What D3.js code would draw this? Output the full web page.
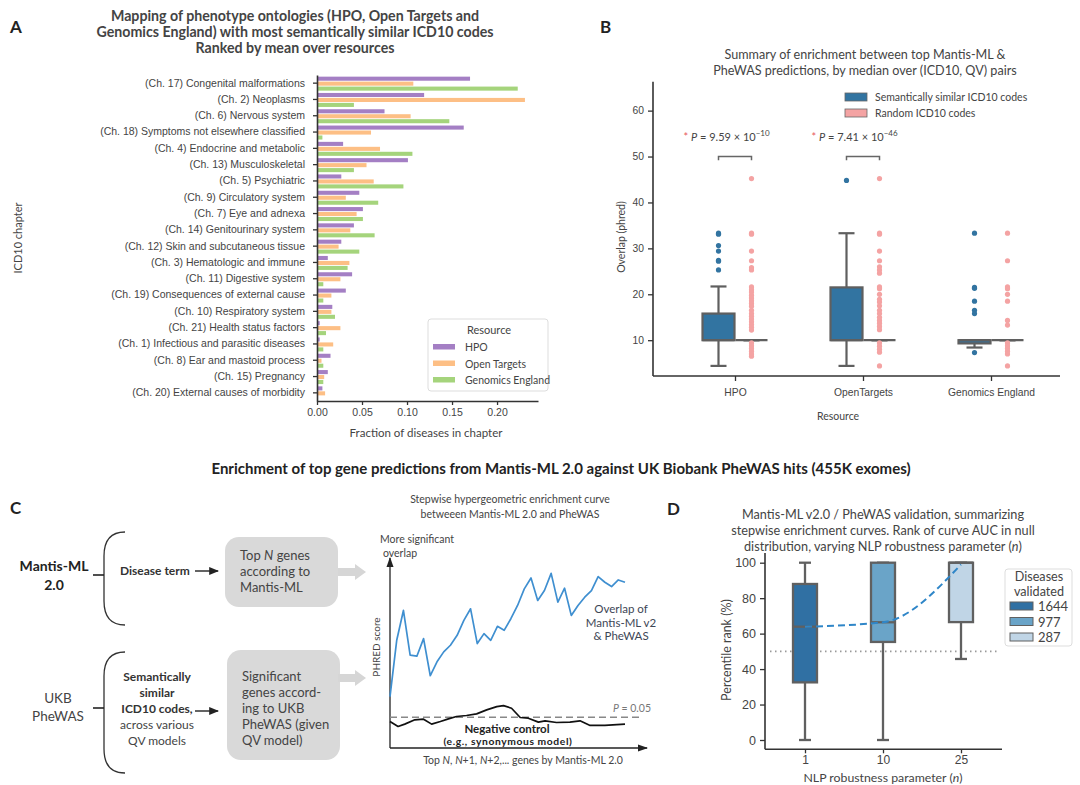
<!DOCTYPE html>
<html><head><meta charset="utf-8">
<script src="https://cdn.jsdelivr.net/npm/d3@7"></script>
<style>
body{margin:0;background:#fff;}
svg{font-family:Lato,'Open Sans',sans-serif;}
</style></head><body>
<svg id="c" width="1080" height="785"></svg>
<script>
// ---------- Panel A data ----------
const chapters = ["(Ch. 17) Congenital malformations","(Ch. 2) Neoplasms","(Ch. 6) Nervous system","(Ch. 18) Symptoms not elsewhere classified","(Ch. 4) Endocrine and metabolic","(Ch. 13) Musculoskeletal","(Ch. 5) Psychiatric","(Ch. 9) Circulatory system","(Ch. 7) Eye and adnexa","(Ch. 14) Genitourinary system","(Ch. 12) Skin and subcutaneous tissue","(Ch. 3) Hematologic and immune","(Ch. 11) Digestive system","(Ch. 19) Consequences of external cause","(Ch. 10) Respiratory system","(Ch. 21) Health status factors","(Ch. 1) Infectious and parasitic diseases","(Ch. 8) Ear and mastoid process","(Ch. 15) Pregnancy","(Ch. 20) External causes of morbidity"];
const hpoFrac = [0.170,0.119,0.075,0.163,0.029,0.101,0.027,0.047,0.051,0.041,0.027,0.012,0.039,0.032,0.017,0.003,0.003,0.015,0.012,0.006];
const otFrac  = [0.107,0.231,0.104,0.060,0.070,0.055,0.063,0.032,0.044,0.037,0.024,0.036,0.026,0.016,0.016,0.026,0.018,0.005,0.008,0.009];
const geFrac  = [0.223,0.041,0.147,0.006,0.106,0.041,0.096,0.068,0.051,0.064,0.047,0.034,0.007,0.007,0.020,0.010,0.007,0.007,0.007,0.000];
const resources = ["HPO","Open Targets","Genomics England"];
const resColors = ["#a47fc4","#fdbf85","#a5d47c"];
const fracTicks = [0,0.05,0.10,0.15,0.20];

// ---------- Panel B data ----------
const bCats = ["HPO","OpenTargets","Genomics England"];
const bHues = ["Semantically similar ICD10 codes","Random ICD10 codes"];
const bHueColors = ["#3274a1","#f4a3a3"];
// box stats: [q1, median, q3, whiskerLow, whiskerHigh]
const bSimStats  = [[10,10,15.8,4.4,21.7],[10,10,21.5,4.4,33.3],[9.3,10,10,8.4,10]];
const bRandStats = [[10,10,10,10,10],[10,10,10,10,10],[10,10,10,10,10]];
const bSimFliers = [[33.3,33.1,30.6,29.4,27.4,27.2,25.3],[44.8],[33.3,21.5,21.3,18.5,16.5,15.8,7.3]];
const bRandFliers = [
  [45.2,33.3,33.1,29.4,27.3,25.8,25.3,21.6,21.0,20.5,19.8,19.2,18.6,18.0,17.4,16.5,15.8,15.2,14.6,14.0,13.4,12.8,12.2,9.4,8.8,8.2,7.6,7.0,6.5],
  [45.2,33.3,33.1,29.4,27.3,26.0,25.3,24.6,21.6,21.2,20.0,18.9,18.3,17.5,16.5,15.8,15.0,14.3,13.7,13.0,12.3,9.4,8.7,8.0,7.4,4.4],
  [33.3,27.3,21.6,21.2,20.0,18.5,14.3,13.3,9.4,8.8,8.2,7.6,7.0,4.4]];
const bTicks = [10,20,30,40,50,60];
const bPMantissa = ["9.59","7.41"];
const bPExponent = ["\u221210","\u221246"];

// ---------- Panel C (schematic curves) ----------
const overlapStep = d3.range(36);
const overlapScore = [31,65,83,56,55.4,66,43.6,52,58,62,68,77,84,63,69,65,73.4,71,78,86,96,102.6,89,95,105.4,88,96.4,80,86,91,95,103.4,100,97.4,101.4,100];
const negStep = [0,1.2,2.2,3.7,5,6.2,7.5,8.7,9.9,11.4,12.9,14.4,15.9,16.9,18.1,19.4,20.6,22.1,23.1,24.8,26.8,28.3,29.8,32,35];
const negScore = [16,13,14.4,17,17.4,14.4,16,17.6,19,19.6,20.6,23,25,25.6,24,18.4,18,15.6,16.4,15.4,15.6,16.4,13.6,13.6,14.4];
const pThresholdScore = 18.6;

// ---------- Panel D data ----------
const nlpParams = ["1","10","25"];
const diseasesValidated = ["1644","977","287"];
const dColors = ["#3070a3","#6aa4c8","#c0d5e6"];
// [q1, median, q3, whiskerLow, whiskerHigh]
const dStats = [[32.5,63.9,88,0,100],[55.3,66.4,100,0,100],[66.5,100,100,45.7,100]];
const dMedianTrend = [63.9,66.4,99];
const dTicks = [0,20,40,60,80,100];
const dNullLine = 50;

// ================= drawing =================
const svg = d3.select("#c");
const TXT = "#444";
const AX = "#333";

function txt(g, x, y, s, o={}) {
  const t = g.append("text").attr("x", x).attr("y", y).text(s)
    .attr("fill", o.fill || TXT).attr("font-size", o.size || 11)
    .attr("text-anchor", o.anchor || "start");
  if (o.bold) t.attr("font-weight", "bold");
  if (o.italic) t.attr("font-style", "italic");
  return t;
}

// ---------- Panel A ----------
{
  const g = svg.append("g");
  txt(g, 10, 33, "A", {size: 17, bold: true, fill: "#222"});
  ["Mapping of phenotype ontologies (HPO, Open Targets and",
   "Genomics England) with most semantically similar ICD10 codes",
   "Ranked by mean over resources"].forEach((s,i) =>
    txt(g, 295, 21 + i*16, s, {size: 14.2, bold: true, anchor: "middle"}));

  const x = d3.scaleLinear().domain([0, 0.2455]).range([317, 538]);
  const y = d3.scaleBand().domain(chapters).range([75, 401]);
  const sub = d3.scaleBand().domain(resources).range([-6.5, 7.5]).paddingInner(0.18);
  const series = [hpoFrac, otFrac, geFrac];
  resources.forEach((r, k) => {
    g.append("g").selectAll("rect").data(chapters).join("rect")
      .attr("x", x(0)).attr("width", (d,i) => x(series[k][i]) - x(0))
      .attr("y", d => y(d) + y.bandwidth()/2 + sub(r))
      .attr("height", sub.bandwidth())
      .attr("fill", resColors[k]);
  });
  const ya = g.append("g").attr("transform", `translate(${x(0)},0)`)
    .call(d3.axisLeft(y).tickSize(4).tickPadding(8).tickSizeOuter(0));
  const xa = g.append("g").attr("transform", `translate(0,401)`)
    .call(d3.axisBottom(x).tickValues(fracTicks).tickFormat(d3.format(".2f")).tickSize(4).tickPadding(4).tickSizeOuter(0));
  [ya, xa].forEach(a => {
    a.selectAll("path").attr("stroke", AX).attr("stroke-width", 1.6);
    a.selectAll("line").attr("stroke", AX).attr("stroke-width", 1.3);
    a.selectAll("text").attr("fill", TXT).attr("font-size", 10.5).attr("font-family", null);
  });
  txt(g, 426, 437, "Fraction of diseases in chapter", {size: 11.5, anchor: "middle"});
  txt(g, 0, 0, "ICD10 chapter", {size: 11, anchor: "middle"})
    .attr("transform", "translate(22,238) rotate(-90)");

  // legend
  const lg = g.append("g");
  lg.append("rect").attr("x", 428).attr("y", 319).attr("width", 120).attr("height", 72)
    .attr("rx", 3).attr("fill", "#fff").attr("stroke", "#ddd");
  txt(lg, 489, 334, "Resource", {size: 11, anchor: "middle"});
  resources.forEach((r, k) => {
    lg.append("rect").attr("x", 433).attr("y", 344 + k*16.5).attr("width", 22).attr("height", 5.5).attr("fill", resColors[k]);
    txt(lg, 465, 351 + k*16.5, r, {size: 10.5});
  });
}

// ---------- Panel B ----------
{
  const g = svg.append("g");
  txt(g, 600, 33, "B", {size: 17, bold: true, fill: "#222"});
  txt(g, 865, 59, "Summary of enrichment between top Mantis-ML &", {size: 12.6, anchor: "middle"});
  txt(g, 865, 75, "PheWAS predictions, by median over (ICD10, QV) pairs", {size: 12.6, anchor: "middle"});

  const y = d3.scaleLinear().domain([2.2, 66.3]).range([376, 81.7]);
  const x = d3.scalePoint().domain(bCats).range([735, 991]);
  const hueOff = d3.scalePoint().domain(bHues).range([-16.5, 16.5]);
  const bw = 32;
  const edge = "#5f5f5f";

  const ya = g.append("g").attr("transform", "translate(653,0)")
    .call(d3.axisLeft(y).tickValues(bTicks).tickSize(5).tickPadding(4).tickSizeOuter(0));
  const xa = g.append("g").attr("transform", "translate(0,376)")
    .call(d3.axisBottom(x).tickSize(5).tickPadding(8).tickSizeOuter(0));
  xa.select("path").remove();
  ya.select("path").remove();
  g.append("line").attr("x1", 653).attr("x2", 653).attr("y1", y.range()[1]).attr("y2", 376).attr("stroke", AX).attr("stroke-width", 1.6);
  g.append("line").attr("x1", 653).attr("x2", 1060).attr("y1", 376).attr("y2", 376).attr("stroke", AX).attr("stroke-width", 1.6);
  [ya, xa].forEach(a => {
    a.selectAll("line").attr("stroke", AX).attr("stroke-width", 1.3);
    a.selectAll("text").attr("fill", TXT).attr("font-size", 10.3).attr("font-family", null);
  });
  txt(g, 0, 0, "Overlap (phred)", {size: 10.5, anchor: "middle"}).attr("transform", "translate(625,237) rotate(-90)");
  txt(g, 838, 420, "Resource", {size: 10.5, anchor: "middle"});

  const drawBox = (cx, s, color) => {
    const [q1, med, q3, lo, hi] = s;
    g.append("line").attr("x1", cx).attr("x2", cx).attr("y1", y(lo)).attr("y2", y(q1)).attr("stroke", edge).attr("stroke-width", 2.2);
    g.append("line").attr("x1", cx).attr("x2", cx).attr("y1", y(q3)).attr("y2", y(hi)).attr("stroke", edge).attr("stroke-width", 2.2);
    [lo, hi].forEach(v => g.append("line").attr("x1", cx - bw/4).attr("x2", cx + bw/4).attr("y1", y(v)).attr("y2", y(v)).attr("stroke", edge).attr("stroke-width", 2.2));
    if (q3 > q1) g.append("rect").attr("x", cx - bw/2).attr("width", bw).attr("y", y(q3)).attr("height", y(q1) - y(q3))
      .attr("fill", color).attr("stroke", edge).attr("stroke-width", 2.2);
    g.append("line").attr("x1", cx - bw/2).attr("x2", cx + bw/2).attr("y1", y(med)).attr("y2", y(med)).attr("stroke", edge).attr("stroke-width", 2.2);
  };
  bCats.forEach((c, i) => {
    const cs = x(c) + hueOff(bHues[0]);
    const cr = x(c) + hueOff(bHues[1]);
    drawBox(cs, bSimStats[i], bHueColors[0]);
    drawBox(cr, bRandStats[i], bHueColors[1]);
    g.append("g").selectAll("circle").data(bSimFliers[i]).join("circle")
      .attr("cx", cs).attr("cy", d => y(d)).attr("r", 2.6).attr("fill", bHueColors[0]);
    g.append("g").selectAll("circle").data(bRandFliers[i]).join("circle")
      .attr("cx", cr).attr("cy", d => y(d)).attr("r", 2.6).attr("fill", bHueColors[1]);
  });
  // significance brackets
  bCats.slice(0, 2).forEach((c, i) => {
    const xl = x(c) + hueOff(bHues[0]), xr = x(c) + hueOff(bHues[1]);
    g.append("path").attr("d", `M${xl},${y(49.2)}V${y(50)}H${xr}V${y(49.2)}`)
      .attr("fill", "none").attr("stroke", "#666").attr("stroke-width", 1.5);
    const t = g.append("text").attr("x", xl - 35).attr("y", y(53.4)).attr("font-size", 11).attr("fill", TXT);
    t.append("tspan").text("* ").attr("fill", "#e8585c");
    t.append("tspan").text("P").attr("font-style", "italic");
    t.append("tspan").text(" = " + bPMantissa[i] + " \u00d7 10");
    t.append("tspan").text(bPExponent[i]).attr("font-size", 8).attr("dy", -4.5);
  });
  // legend
  bHues.forEach((h, k) => {
    g.append("rect").attr("x", 845).attr("y", 93 + k*16).attr("width", 22).attr("height", 8)
      .attr("fill", bHueColors[k]).attr("stroke", "#666").attr("stroke-width", 0.8);
    txt(g, 875, 101 + k*16, h, {size: 10.5});
  });
}

// ---------- Section title ----------
txt(svg, 561, 474, "Enrichment of top gene predictions from Mantis-ML 2.0 against  UK Biobank PheWAS hits (455K exomes)", {size: 15, bold: true, anchor: "middle", fill: "#222"});

// ---------- Panel C ----------
{
  const g = svg.append("g");
  txt(g, 10, 514, "C", {size: 17, bold: true, fill: "#222"});
  // braces
  [[532, 625, 575], [652, 773, 708]].forEach(([t, b, m]) => {
    g.append("path").attr("d", `M125,${t} Q104,${t} 104,${t+24} L104,${b-24} Q104,${b} 125,${b}`)
      .attr("fill", "none").attr("stroke", "#333").attr("stroke-width", 1.3);
    g.append("line").attr("x1", 93).attr("x2", 104).attr("y1", m).attr("y2", m).attr("stroke", "#222").attr("stroke-width", 1.6);
  });
  txt(g, 54, 571, "Mantis-ML", {size: 14, bold: true, anchor: "middle", fill: "#222"});
  txt(g, 54, 590, "2.0", {size: 14, bold: true, anchor: "middle", fill: "#222"});
  txt(g, 58, 703, "UKB", {size: 13.5, anchor: "middle"});
  txt(g, 58, 721, "PheWAS", {size: 13.5, anchor: "middle"});
  txt(g, 120, 575, "Disease term", {size: 12, bold: true, fill: "#333"});
  ["Semantically", "similar", "ICD10 codes,"].forEach((s, i) => txt(g, 157, 681 + i*16, s, {size: 12, bold: true, anchor: "middle", fill: "#333"}));
  ["across various", "QV models"].forEach((s, i) => txt(g, 157, 729 + i*15.5, s, {size: 12, anchor: "middle"}));
  // small arrows
  svg.append("defs").html('<marker id="ah" viewBox="0 0 10 10" refX="9" refY="5" markerWidth="7" markerHeight="7" orient="auto"><path d="M0,1L10,5L0,9z" fill="#222"/></marker>' +
    '<marker id="ah2" viewBox="0 0 10 10" refX="9" refY="5" markerWidth="8" markerHeight="8" orient="auto"><path d="M0,1.5L10,5L0,8.5z" fill="#222"/></marker>');
  [[195, 218, 571], [195, 218, 711]].forEach(([a, b, yy]) =>
    g.append("line").attr("x1", a).attr("x2", b).attr("y1", yy).attr("y2", yy).attr("stroke", "#222").attr("stroke-width", 1.4).attr("marker-end", "url(#ah)"));
  // grey boxes
  g.append("rect").attr("x", 225).attr("y", 537).attr("width", 113).attr("height", 70).attr("rx", 14).attr("fill", "#d9d9d9");
  g.append("rect").attr("x", 227).attr("y", 650).attr("width", 113).attr("height", 110).attr("rx", 14).attr("fill", "#d9d9d9");
  const t1 = txt(g, 240, 560, "", {size: 13});
  t1.append("tspan").text("Top ");
  t1.append("tspan").text("N").attr("font-style", "italic");
  t1.append("tspan").text(" genes");
  txt(g, 240, 576, "according to", {size: 13});
  txt(g, 240, 592, "Mantis-ML", {size: 13});
  ["Significant", "genes accord-", "ing to UKB", "PheWAS (given", "QV model)"].forEach((s, i) => txt(g, 242, 681 + i*16, s, {size: 13}));
  // big grey arrows
  [572, 678].forEach(yy => g.append("path").attr("d", `M338,${yy-4}H355V${yy-8}L366,${yy}L355,${yy+8}V${yy+4}H338Z`).attr("fill", "#d6d6d6"));

  // schematic plot
  txt(g, 510, 503, "Stepwise hypergeometric enrichment curve", {size: 10.5, anchor: "middle"});
  txt(g, 510, 518, "betweeen Mantis-ML 2.0 and PheWAS", {size: 10.5, anchor: "middle"});
  const x = d3.scaleLinear().domain([0, 35]).range([390, 625]);
  const y = d3.scaleLinear().domain([0, 110]).range([748, 565.7]);
  g.append("line").attr("x1", 390).attr("x2", 390).attr("y1", 748).attr("y2", 558).attr("stroke", "#222").attr("stroke-width", 1.3).attr("marker-end", "url(#ah2)");
  g.append("line").attr("x1", 390).attr("x2", 647).attr("y1", 748).attr("y2", 748).attr("stroke", "#222").attr("stroke-width", 1.3).attr("marker-end", "url(#ah2)");
  txt(g, 380, 543, "More significant", {size: 10.5});
  txt(g, 383, 557, "overlap", {size: 10.5});
  txt(g, 0, 0, "PHRED score", {size: 10}).attr("text-anchor", "middle").attr("transform", "translate(380,647) rotate(-90)");
  g.append("line").attr("x1", x(0)).attr("x2", 642).attr("y1", y(pThresholdScore)).attr("y2", y(pThresholdScore))
    .attr("stroke", "#888").attr("stroke-width", 1.5).attr("stroke-dasharray", "7,4");
  const pt = txt(g, 651, 712, "", {size: 10.5, anchor: "end", fill: "#777"});
  pt.append("tspan").text("P").attr("font-style", "italic");
  pt.append("tspan").text(" = 0.05");
  const line = d3.line().x(d => x(d[0])).y(d => y(d[1]));
  g.append("path").attr("d", line(overlapStep.map((s, i) => [s, overlapScore[i]])))
    .attr("fill", "none").attr("stroke", "#3f8fd0").attr("stroke-width", 1.7).attr("stroke-linejoin", "round");
  g.append("path").attr("d", line(negStep.map((s, i) => [s, negScore[i]])))
    .attr("fill", "none").attr("stroke", "#111").attr("stroke-width", 1.7).attr("stroke-linejoin", "round");
  txt(g, 507, 733, "Negative control", {size: 11.5, bold: true, anchor: "middle", fill: "#222"});
  txt(g, 508, 745, "(e.g., synonymous model)", {size: 10.3, bold: true, anchor: "middle", fill: "#222"}).attr("letter-spacing", 0.6);
  ["Overlap of", "Mantis-ML v2", "& PheWAS"].forEach((s, i) => txt(g, 621, 613 + i*13.5, s, {size: 11.5, anchor: "middle", fill: "#3d4656"}));
  const xl = txt(g, 523, 764, "", {size: 10.5, anchor: "middle"});
  xl.append("tspan").text("Top ");
  xl.append("tspan").text("N").attr("font-style", "italic");
  xl.append("tspan").text(", ");
  xl.append("tspan").text("N").attr("font-style", "italic");
  xl.append("tspan").text("+1, ");
  xl.append("tspan").text("N").attr("font-style", "italic");
  xl.append("tspan").text("+2,... genes by Mantis-ML 2.0");
}

// ---------- Panel D ----------
{
  const g = svg.append("g");
  txt(g, 667, 515, "D", {size: 17, bold: true, fill: "#222"});
  txt(g, 883, 519, "Mantis-ML v2.0 / PheWAS validation, summarizing", {size: 12.7, anchor: "middle"});
  txt(g, 883, 535, "stepwise enrichment curves. Rank of curve AUC in null", {size: 12.7, anchor: "middle"});
  const tl = txt(g, 883, 551, "distribution, varying NLP robustness parameter (", {size: 12.7, anchor: "middle"});
  tl.append("tspan").text("n").attr("font-style", "italic");
  tl.append("tspan").text(")");

  const y = d3.scaleLinear().domain([0, 100]).range([740, 562.7]);
  const x = d3.scalePoint().domain(nlpParams).range([805, 961]);
  const bw = 24;
  const edge = "#606060";
  const ya = g.append("g").attr("transform", "translate(765,0)")
    .call(d3.axisLeft(y).tickValues(dTicks).tickSize(5).tickPadding(4).tickSizeOuter(0));
  const xa = g.append("g").attr("transform", "translate(0,749.3)")
    .call(d3.axisBottom(x).tickSize(4).tickPadding(2).tickSizeOuter(0));
  ya.select("path").remove(); xa.select("path").remove();
  g.append("line").attr("x1", 765).attr("x2", 765).attr("y1", y(105.5)).attr("y2", 749.3).attr("stroke", AX).attr("stroke-width", 1.6);
  g.append("line").attr("x1", 765).attr("x2", 1002).attr("y1", 749.3).attr("y2", 749.3).attr("stroke", AX).attr("stroke-width", 1.6);
  [ya, xa].forEach(a => {
    a.selectAll("line").attr("stroke", AX).attr("stroke-width", 1.3);
    a.selectAll("text").attr("fill", TXT).attr("font-size", 12.5).attr("font-family", null);
  });
  xa.selectAll("text").attr("font-size", 12);
  g.append("line").attr("x1", 770).attr("x2", 1000).attr("y1", y(dNullLine)).attr("y2", y(dNullLine))
    .attr("stroke", "#999").attr("stroke-width", 1.6).attr("stroke-dasharray", "1.5,3.5");
  nlpParams.forEach((p, i) => {
    const [q1, med, q3, lo, hi] = dStats[i];
    const cx = x(p);
    g.append("line").attr("x1", cx).attr("x2", cx).attr("y1", y(lo)).attr("y2", y(q1)).attr("stroke", edge).attr("stroke-width", 2.3);
    g.append("line").attr("x1", cx).attr("x2", cx).attr("y1", y(q3)).attr("y2", y(hi)).attr("stroke", edge).attr("stroke-width", 2.3);
    [lo, hi].forEach(v => g.append("line").attr("x1", cx - bw/4).attr("x2", cx + bw/4).attr("y1", y(v)).attr("y2", y(v)).attr("stroke", edge).attr("stroke-width", 2.3));
    g.append("rect").attr("x", cx - bw/2).attr("width", bw).attr("y", y(q3)).attr("height", y(q1) - y(q3))
      .attr("fill", dColors[i]).attr("stroke", edge).attr("stroke-width", 2.3);
    g.append("line").attr("x1", cx - bw/2).attr("x2", cx + bw/2).attr("y1", y(med)).attr("y2", y(med)).attr("stroke", edge).attr("stroke-width", 2.3);
  });
  const trend = d3.line().x(d => x(d[0])).y(d => y(d[1])).curve(d3.curveMonotoneX);
  g.append("path").attr("d", trend(nlpParams.map((p, i) => [p, dMedianTrend[i]])))
    .attr("fill", "none").attr("stroke", "#2f86c8").attr("stroke-width", 2).attr("stroke-dasharray", "7,4");
  txt(g, 0, 0, "Percentile rank (%)", {size: 12.5, anchor: "middle"}).attr("transform", "translate(731,650) rotate(-90)");
  const xl = txt(g, 883, 782, "NLP robustness parameter (", {size: 12.3, anchor: "middle"});
  xl.append("tspan").text("n").attr("font-style", "italic");
  xl.append("tspan").text(")");
  // legend
  g.append("rect").attr("x", 1005).attr("y", 569).attr("width", 67).attr("height", 77).attr("rx", 3).attr("fill", "#fff").attr("stroke", "#ddd");
  txt(g, 1039, 581, "Diseases", {size: 12.6, anchor: "middle"});
  txt(g, 1039, 596, "validated", {size: 12.6, anchor: "middle"});
  diseasesValidated.forEach((d, k) => {
    g.append("rect").attr("x", 1010).attr("y", 602 + k*15.5).attr("width", 23).attr("height", 8)
      .attr("fill", dColors[k]).attr("stroke", edge).attr("stroke-width", 1);
    txt(g, 1038, 611 + k*15.5, d, {size: 13});
  });
}
</script>
</body></html>
